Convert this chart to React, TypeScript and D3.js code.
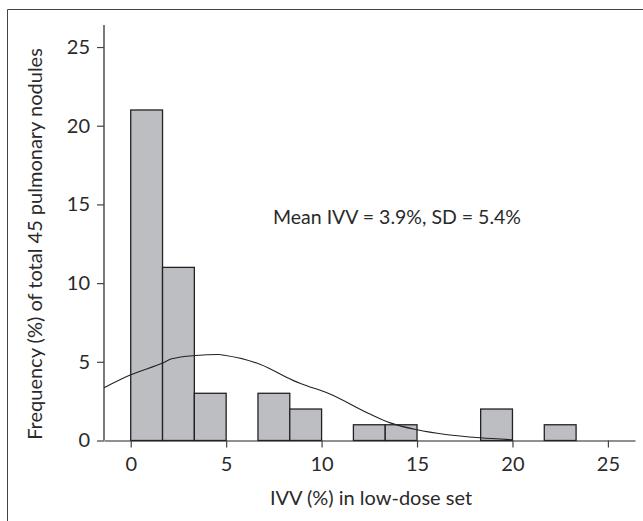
import React, { useRef, useEffect } from 'react'
import * as d3 from 'd3'

// histogram bins (IVV %) and counts of nodules
const binEdges = [0, 1.667, 3.333, 5, 6.667, 8.333, 10, 11.667, 13.333, 15, 16.667, 18.333, 20, 21.667, 23.333]
const counts = [21, 11, 3, 0, 3, 2, 0, 1, 1, 0, 0, 2, 0, 1]

// fitted normal curve
const curveX = [-1.4, 0, 1.7, 2.15, 3.4, 4.6, 4.9, 6.8, 8.5, 8.9, 10.4, 12.5, 13.6, 15, 16.5, 18.3, 20]
const curveY = [3.35, 4.17, 4.94, 5.19, 5.4, 5.46, 5.42, 4.83, 3.82, 3.62, 2.97, 1.7, 1.12, 0.68, 0.38, 0.17, 0.05]

const xTicks = [0, 5, 10, 15, 20, 25]
const yTicks = [0, 5, 10, 15, 20, 25]

const xTitle = 'IVV (%) in low-dose set'
const yTitle = 'Frequency (%) of total 45 pulmonary nodules'
const note = 'Mean IVV = 3.9%, SD = 5.4%'

const FONT = 'Lato, "DejaVu Sans", sans-serif'

const App = () => {
    const svgRef = useRef<SVGSVGElement>(null)

    useEffect(() => {
        const w = 643
        const h = 521
        const svg = d3.select(svgRef.current)
        svg.selectAll('*').remove()
        svg.attr('width', w).attr('height', h)

        const x = d3.scaleLinear().domain([-1.4, 26.42]).range([104, 635])
        const y = d3.scaleLinear().domain([0, 26.4]).range([440.5, 25])

        // frame (left + top edges)
        svg.append('path')
            .attr('d', `M7.5,${h}V9.5H${w}`)
            .attr('fill', 'none')
            .attr('stroke', '#444')
            .attr('stroke-width', 1)

        // bars
        const bars = counts.map((c, i) => ({ x0: binEdges[i], x1: binEdges[i] + (binEdges[1] - binEdges[0]), c }))
            .filter(d => d.c > 0)
        svg.selectAll('.bar')
            .data(bars)
            .join('rect')
            .attr('x', d => x(d.x0))
            .attr('y', d => y(d.c))
            .attr('width', d => x(d.x1) - x(d.x0))
            .attr('height', d => y(0) - y(d.c))
            .attr('fill', '#bdbec2')
            .attr('stroke', '#222')
            .attr('stroke-width', 1.3)

        // normal curve
        const line = d3.line<number>()
            .x((d, i) => x(curveX[i]))
            .y(d => y(d))
            .curve(d3.curveMonotoneX)
        svg.append('path')
            .attr('d', line(curveY))
            .attr('fill', 'none')
            .attr('stroke', '#222')
            .attr('stroke-width', 1.1)

        // axes
        const xAxis = d3.axisBottom(x).tickValues(xTicks).tickSize(7).tickPadding(9).tickSizeOuter(0)
        const gx = svg.append('g').attr('transform', `translate(0, ${y(0)})`).call(xAxis)
        const yAxis = d3.axisLeft(y).tickValues(yTicks).tickSize(7).tickPadding(7).tickSizeOuter(0)
        const gy = svg.append('g').attr('transform', `translate(${x(-1.4)}, 0)`).call(yAxis)

        for (const g of [gx, gy]) {
            g.select('.domain').attr('stroke', '#222').attr('stroke-width', 1.2)
            g.selectAll('.tick line').attr('stroke', '#444').attr('stroke-width', 1.2)
            g.selectAll('.tick text')
                .attr('fill', '#2a2a2a')
                .style('font-family', FONT)
                .style('font-size', '20px')
        }
        gy.select('.domain').attr('d', `M0,${y(0)}V25`)

        // titles
        svg.append('text')
            .attr('x', 371)
            .attr('y', 505)
            .attr('text-anchor', 'middle')
            .attr('fill', '#2a2a2a')
            .style('font-family', FONT)
            .style('font-size', '20px')
            .text(xTitle)

        svg.append('text')
            .attr('transform', `translate(42, 244) rotate(-90)`)
            .attr('text-anchor', 'middle')
            .attr('fill', '#2a2a2a')
            .style('font-family', FONT)
            .style('font-size', '20px')
            .text(yTitle)

        svg.append('text')
            .attr('x', 273)
            .attr('y', 224)
            .attr('fill', '#2a2a2a')
            .style('font-family', FONT)
            .style('font-size', '19.5px')
            .text(note)
    })

    return (
        <div className='chart'>
            <svg ref={svgRef} style={{ position: 'absolute', left: 0, top: 0 }}></svg>
        </div>
    )
}

export default App
